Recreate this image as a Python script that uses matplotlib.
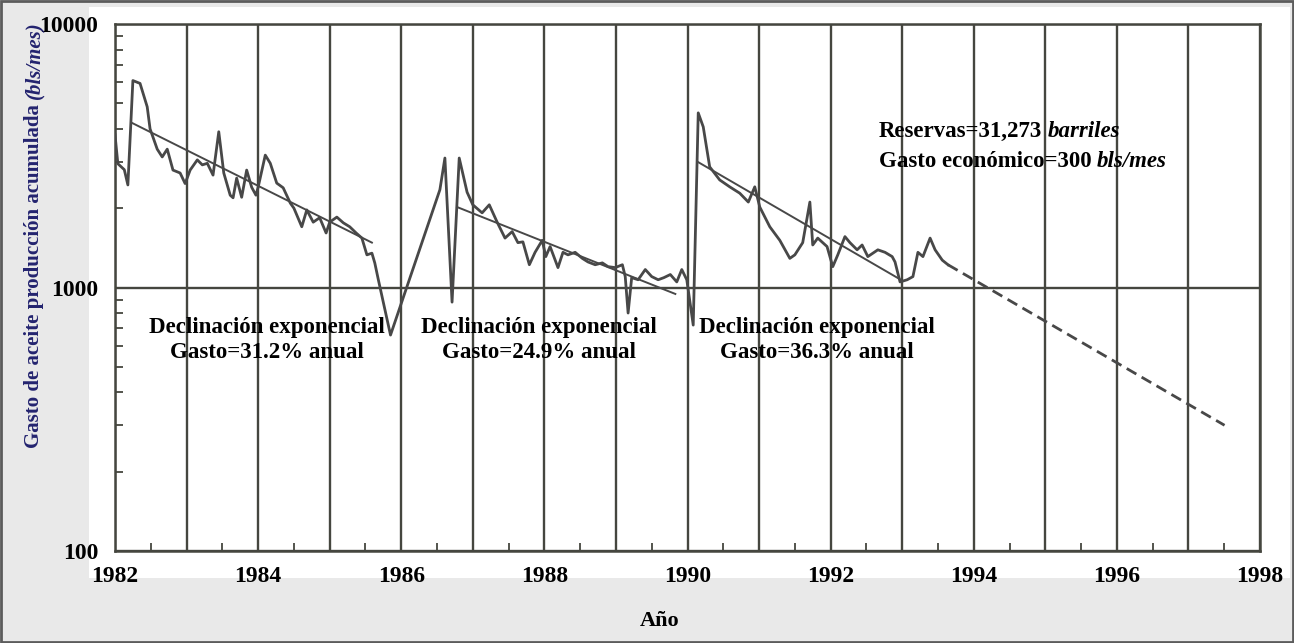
import numpy as np
import matplotlib
matplotlib.use("Agg")
import matplotlib.pyplot as plt
from matplotlib.patches import Rectangle
from matplotlib.ticker import MultipleLocator, LogLocator, FuncFormatter, NullFormatter

# monthly oil rate history (bls/mes)
years = [
    1982.00, 1982.04, 1982.13, 1982.18, 1982.25, 1982.35, 1982.45, 1982.49, 1982.59, 1982.66,
    1982.73, 1982.81, 1982.91, 1982.98, 1983.05, 1983.15, 1983.22, 1983.29, 1983.37, 1983.45,
    1983.52, 1983.61, 1983.65, 1983.70, 1983.77, 1983.84, 1983.91, 1983.97, 1984.00, 1984.10,
    1984.17, 1984.26, 1984.35, 1984.45, 1984.50, 1984.61, 1984.68, 1984.77, 1984.86, 1984.95,
    1985.00, 1985.10, 1985.19, 1985.28, 1985.37, 1985.45, 1985.52, 1985.59, 1985.63, 1985.68,
    1985.85, 1986.54, 1986.61, 1986.71, 1986.81, 1986.92, 1987.00, 1987.13, 1987.23, 1987.34,
    1987.45, 1987.55, 1987.63, 1987.70, 1987.79, 1987.87, 1987.97, 1988.02, 1988.08, 1988.19,
    1988.26, 1988.33, 1988.43, 1988.53, 1988.61, 1988.71, 1988.81, 1988.89, 1988.99, 1989.09,
    1989.13, 1989.17, 1989.22, 1989.31, 1989.41, 1989.50, 1989.59, 1989.67, 1989.76, 1989.85,
    1989.92, 1989.99, 1990.08, 1990.15, 1990.22, 1990.31, 1990.45, 1990.59, 1990.73, 1990.85,
    1990.94, 1991.01, 1991.15, 1991.29, 1991.43, 1991.50, 1991.61, 1991.71, 1991.75, 1991.82,
    1991.95, 1992.03, 1992.10, 1992.20, 1992.27, 1992.37, 1992.44, 1992.52, 1992.59, 1992.66,
    1992.76, 1992.86, 1992.90, 1992.97, 1993.07, 1993.15, 1993.22, 1993.29, 1993.39, 1993.46,
    1993.56, 1993.64,
]
rates = [
    3800, 2950, 2800, 2450, 6100, 5950, 4850, 4000, 3350, 3130,
    3350, 2790, 2720, 2480, 2790, 3050, 2920, 2960, 2670, 3900,
    2720, 2240, 2190, 2600, 2200, 2790, 2400, 2240, 2400, 3180,
    2960, 2490, 2390, 2090, 2000, 1700, 1970, 1770, 1840, 1610,
    1770, 1850, 1760, 1700, 1610, 1540, 1330, 1350, 1240, 1070,
    660, 2350, 3100, 880, 3100, 2300, 2060, 1920, 2060, 1770,
    1540, 1630, 1480, 1490, 1220, 1360, 1510, 1310, 1430, 1190,
    1360, 1330, 1360, 1290, 1250, 1220, 1240, 1200, 1190, 1220,
    1100, 800, 1090, 1070, 1170, 1100, 1070, 1090, 1120, 1050,
    1170, 1070, 720, 4600, 4070, 2870, 2560, 2410, 2280, 2110,
    2410, 2020, 1700, 1510, 1290, 1330, 1480, 2110, 1450, 1540,
    1430, 1200, 1330, 1560, 1480, 1390, 1450, 1310, 1350, 1390,
    1360, 1310, 1250, 1050, 1070, 1100, 1360, 1310, 1540, 1390,
    1270, 1220,
]

# exponential decline fits: start year, start rate, end year, decline (% per year)
fit_start = [1982.24, 1986.78, 1990.15]
fit_rate0 = [4210, 2020, 2990]
fit_end = [1985.59, 1989.83, 1992.98]
fit_decline = [31.2, 24.9, 36.3]

# forecast from the last fit down to the economic rate
forecast_start = 1993.64
forecast_rate0 = 1220
forecast_decline = 36.3
economic_rate = 300
reserves = "31,273"

W, H = 1294, 643
GRID = "#45463f"
LINE = "#484848"
plt.rcParams["font.family"] = ["Liberation Serif", "DejaVu Serif"]
plt.rcParams["font.weight"] = "bold"

fig = plt.figure(figsize=(W / 100, H / 100), dpi=100, facecolor="#e9e9e9")
fig.patches.append(Rectangle((89 / W, 1 - 578 / H), (1290 - 89) / W, (578 - 7) / H,
                             transform=fig.transFigure, facecolor="white",
                             edgecolor="none", zorder=-10))
fig.patches.append(Rectangle((0.001, 0.002), 0.998, 0.996, transform=fig.transFigure,
                             fill=False, edgecolor="#5c5c5c", lw=2, zorder=10))

ax = fig.add_axes([115 / W, 1 - 551 / H, (1260 - 115) / W, (551 - 24) / H])
ax.set_yscale("log")
ax.set_xlim(1982, 1998)
ax.set_ylim(100, 10000)

# yearly grid and the 1000 line
ax.xaxis.set_major_locator(MultipleLocator(1))
ax.xaxis.set_minor_locator(MultipleLocator(0.5))
ax.xaxis.set_major_formatter(FuncFormatter(lambda v, p: f"{int(round(v))}" if round(v) % 2 == 0 else ""))
ax.yaxis.set_major_locator(LogLocator(base=10))
ax.yaxis.set_major_formatter(FuncFormatter(lambda v, p: f"{int(round(v))}"))
ax.yaxis.set_minor_locator(LogLocator(base=10, subs=np.arange(2, 10)))
ax.yaxis.set_minor_formatter(NullFormatter())
ax.grid(True, which="major", color=GRID, lw=1.7)
ax.tick_params(which="major", length=0, labelsize=17)
ax.tick_params(axis="x", which="major", pad=11)
ax.tick_params(axis="y", which="major", pad=12)
ax.tick_params(which="minor", direction="in", length=6, width=1.3, color=GRID)
for s in ax.spines.values():
    s.set_color(GRID)
    s.set_linewidth(1.8)

ax.plot(years, rates, color=LINE, lw=2.0, zorder=3)

for t0, q0, t1, d in zip(fit_start, fit_rate0, fit_end, fit_decline):
    t = np.linspace(t0, t1, 50)
    ax.plot(t, q0 * np.exp(-d / 100 * (t - t0)), color=LINE, lw=1.4, zorder=3)

t_end = forecast_start + np.log(forecast_rate0 / economic_rate) / (forecast_decline / 100)
t = np.linspace(forecast_start, t_end, 50)
ax.plot(t, forecast_rate0 * np.exp(-forecast_decline / 100 * (t - forecast_start)),
        color=LINE, lw=2.0, dashes=(4, 2.2), zorder=3)

label_x = [1984.12, 1987.93, 1991.81]
for x, d in zip(label_x, fit_decline):
    ax.text(x, 632, f"Declinación exponencial\nGasto={d}% anual", ha="center", va="center",
            fontsize=16.5, linespacing=1.2, zorder=4)


def text_run(x, y, parts, rotation=0, **kw):
    # draw consecutive text pieces with their own style, baseline aligned
    r = fig.canvas.get_renderer()
    for s, style, gap in parts:
        t = fig.text(x, y, s, rotation=rotation, rotation_mode="anchor", ha="left",
                     va="baseline", style=style, **kw)
        bb = t.get_window_extent(renderer=r)
        if rotation == 0:
            x += (bb.width + gap) / W
        else:
            y += (bb.height + gap) / H


text_run(879 / W, 1 - 137 / H, [(f"Reservas={reserves}", "normal", 5), ("barriles", "italic", 0)],
         fontsize=16.5)
text_run(879 / W, 1 - 167 / H, [(f"Gasto económico={economic_rate}", "normal", 5),
                                ("bls/mes", "italic", 0)], fontsize=16.5)

text_run(39 / W, 1 - 448 / H, [("Gasto de aceite producción acumulada", "normal", 5),
                               ("(bls/mes)", "italic", 0)],
         rotation=90, fontsize=15, color="#23236f")
fig.text(660 / W, 1 - 621 / H, "Año", ha="center", va="center", fontsize=16)

fig.savefig("out.png", dpi=100, facecolor=fig.get_facecolor())
